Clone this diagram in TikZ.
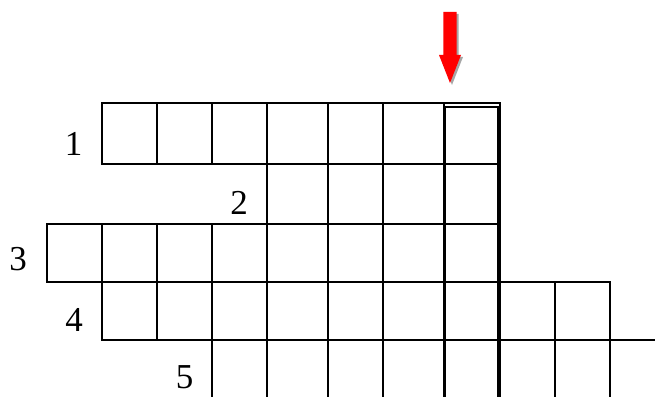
\documentclass[tikz,border=0pt]{standalone}
\usepackage{fontspec}
\setmainfont{Liberation Serif}
\usetikzlibrary{shadows}
\definecolor{cluered}{RGB}{255,0,0}

\begin{document}
\begin{tikzpicture}[x=1pt, y=-1pt,
    cell/.style={draw, line width=1.8pt},
    keycol/.style={line width=3pt},
    num/.style={font=\fontsize{35}{40}\selectfont, inner sep=0pt},
    pointer/.style={fill=cluered,
                    drop shadow={shadow xshift=2pt, shadow yshift=-2pt,
                                 opacity=0.35, fill=black}}]

\useasboundingbox (0,0) rectangle (655,396);

%% ── Column and row lines ─────────────────────────────────────────────────────
\foreach \x [count=\i from 0] in {47,102,157,212,267,328,383,444,500,555,610,665}
    \coordinate (c\i) at (\x,0);
\foreach \y [count=\j from 0] in {103,164,224,282,340,400}
    \coordinate (r\j) at (0,\y);

%% ── Cells, row by row (row/first column/last column) ────────────────────────
\foreach \row/\first/\last in {0/1/7, 1/4/7, 2/0/7, 3/1/9, 4/3/10} {
    \pgfmathtruncatemacro{\nextrow}{\row+1}
    \foreach \col in {\first,...,\last} {
        \pgfmathtruncatemacro{\nextcol}{\col+1}
        \draw[cell] (c\col |- r\row) rectangle (c\nextcol |- r\nextrow);
    }
}

%% ── Key column ───────────────────────────────────────────────────────────────
\coordinate (kl) at (444.3,106.7);
\coordinate (kr) at (498.7,106.7);
\draw[line width=1.6pt] (kl) -- (kr);
\draw[keycol] (kl) -- (kl |- r5);
\draw[keycol] (kr) -- (kr |- r5);

%% ── Pointer ──────────────────────────────────────────────────────────────────
\fill[pointer] (443.3,12) -- (456.7,12) -- (456.7,55) -- (461,55)
    -- (450,83) -- (439,55) -- (443.3,55) -- cycle;

%% ── Clue numbers ─────────────────────────────────────────────────────────────
\node[num] (n1) at (73.5,143.5) {1};
\node[num] (n2) at (239,202.5) {2};
\node[num] (n3) at (18,259.5) {3};
\node[num] (n4) at (74,320) {4};
\node[num] (n5) at (184.5,377) {5};

\end{tikzpicture}
\end{document}
